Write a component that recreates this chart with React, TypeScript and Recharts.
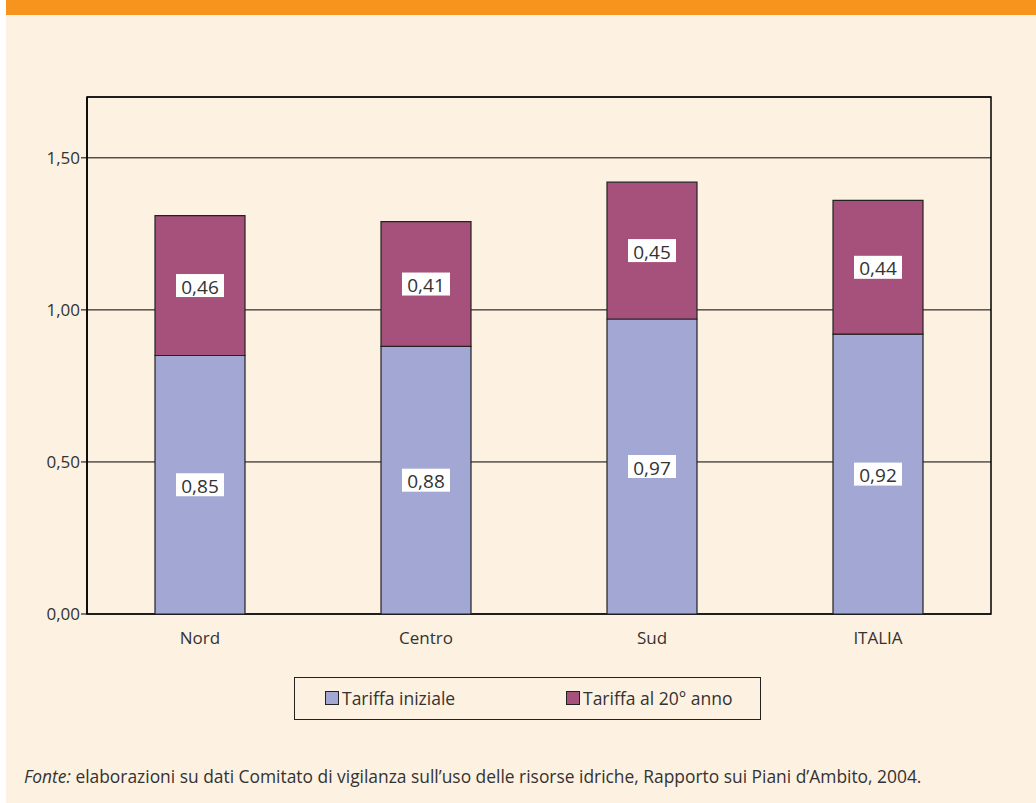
import React from 'react';
import {
  BarChart,
  Bar,
  XAxis,
  YAxis,
  CartesianGrid,
  ReferenceArea,
  LabelList,
} from 'recharts';

// dati
const regioni = ['Nord', 'Centro', 'Sud', 'ITALIA'];
const tariffaIniziale = [0.85, 0.88, 0.97, 0.92];
const tariffa20Anno = [0.46, 0.41, 0.45, 0.44];
const yTicks = [0, 0.5, 1.0, 1.5];

const BLU = '#a2a8d3';
const VIOLA = '#a6507c';
const CREMA = '#fdf1e1';
const ARANCIO = '#f7941d';
const TESTO = '#333333';
const FONT = '"Open Sans", "DejaVu Sans", sans-serif';

const chartData = regioni.map((nome, i) => ({
  nome,
  iniziale: tariffaIniziale[i],
  ventesimo: tariffa20Anno[i],
  pos: i + 0.5,
}));

const virgola = (v: number) => v.toFixed(2).replace('.', ',');

// etichetta bianca al centro del segmento
const EtichettaBox = (props: any) => {
  const { x, y, width, height, value } = props;
  const cx = x + width / 2;
  const cy = y + height / 2;
  const w = 48;
  const h = 23;
  return (
    <g>
      <rect x={cx - w / 2} y={cy - h / 2} width={w} height={h} fill="#ffffff" />
      <text
        x={cx}
        y={cy + 1}
        textAnchor="middle"
        dominantBaseline="central"
        fontSize={19}
        fill={TESTO}
        fontFamily={FONT}
      >
        {virgola(value)}
      </text>
    </g>
  );
};

export default function App() {
  return (
    <div
      style={{
        position: 'absolute',
        left: 0,
        top: 0,
        width: 1036,
        height: 803,
        background: '#ffffff',
        fontFamily: FONT,
      }}
    >
      <div style={{ position: 'absolute', left: 6, top: 0, width: 1030, height: 803, background: CREMA }} />
      <div style={{ position: 'absolute', left: 6, top: 0, width: 1030, height: 15, background: ARANCIO }} />

      <div style={{ position: 'absolute', left: 0, top: 0 }}>
        <BarChart
          width={1036}
          height={650}
          data={chartData}
          margin={{ top: 97, right: 45, left: 0, bottom: 0 }}
          barSize={90}
        >
          <CartesianGrid vertical={false} stroke="#000000" strokeWidth={1} />
          <ReferenceArea y1={0} y2={1.7} fill="none" stroke="#000000" strokeWidth={1.5} />
          <XAxis
            xAxisId="sep"
            dataKey="pos"
            type="number"
            domain={[0, 4]}
            ticks={[0, 1, 2, 3, 4]}
            height={0}
            tickSize={6}
            tickFormatter={() => ''}
            stroke="#000000"
            axisLine={{ stroke: '#000000', strokeWidth: 1.5 }}
          />
          <XAxis
            dataKey="nome"
            height={36}
            axisLine={false}
            tickLine={false}
            tickSize={0}
            tickMargin={18}
            tick={{ fill: TESTO, fontSize: 17, fontFamily: FONT }}
          />
          <YAxis
            width={87}
            domain={[0, 1.7]}
            ticks={yTicks}
            tickFormatter={virgola}
            tickSize={6}
            tickMargin={1}
            stroke="#000000"
            axisLine={{ stroke: '#000000', strokeWidth: 1.5 }}
            tick={{ fill: TESTO, fontSize: 17, fontFamily: FONT }}
          />
          <Bar
            dataKey="iniziale"
            stackId="t"
            fill={BLU}
            stroke="#222222"
            strokeWidth={1.2}
            isAnimationActive={false}
          >
            <LabelList dataKey="iniziale" content={EtichettaBox} />
          </Bar>
          <Bar
            dataKey="ventesimo"
            stackId="t"
            fill={VIOLA}
            stroke="#222222"
            strokeWidth={1.2}
            isAnimationActive={false}
          >
            <LabelList dataKey="ventesimo" content={EtichettaBox} />
          </Bar>
        </BarChart>
      </div>

      {/* legenda */}
      <div
        style={{
          position: 'absolute',
          left: 294,
          top: 677,
          width: 467,
          height: 43,
          border: '1.5px solid #222',
          boxSizing: 'border-box',
          fontSize: 17.5,
          color: TESTO,
        }}
      >
        <div style={{ position: 'absolute', left: 30, top: 8, display: 'flex', alignItems: 'center' }}>
          <span style={{ width: 12, height: 12, background: BLU, border: '1px solid #222', marginRight: 3 }} />
          Tariffa iniziale
        </div>
        <div style={{ position: 'absolute', left: 271, top: 8, display: 'flex', alignItems: 'center' }}>
          <span style={{ width: 12, height: 12, background: VIOLA, border: '1px solid #222', marginRight: 3 }} />
          Tariffa al 20° anno
        </div>
      </div>

      {/* fonte */}
      <div style={{ position: 'absolute', left: 24, top: 764, fontSize: 17.4, color: TESTO, whiteSpace: 'nowrap' }}>
        <i>Fonte:</i> elaborazioni su dati Comitato di vigilanza sull’uso delle risorse idriche, Rapporto sui Piani d’Ambito, 2004.
      </div>
    </div>
  );
}
